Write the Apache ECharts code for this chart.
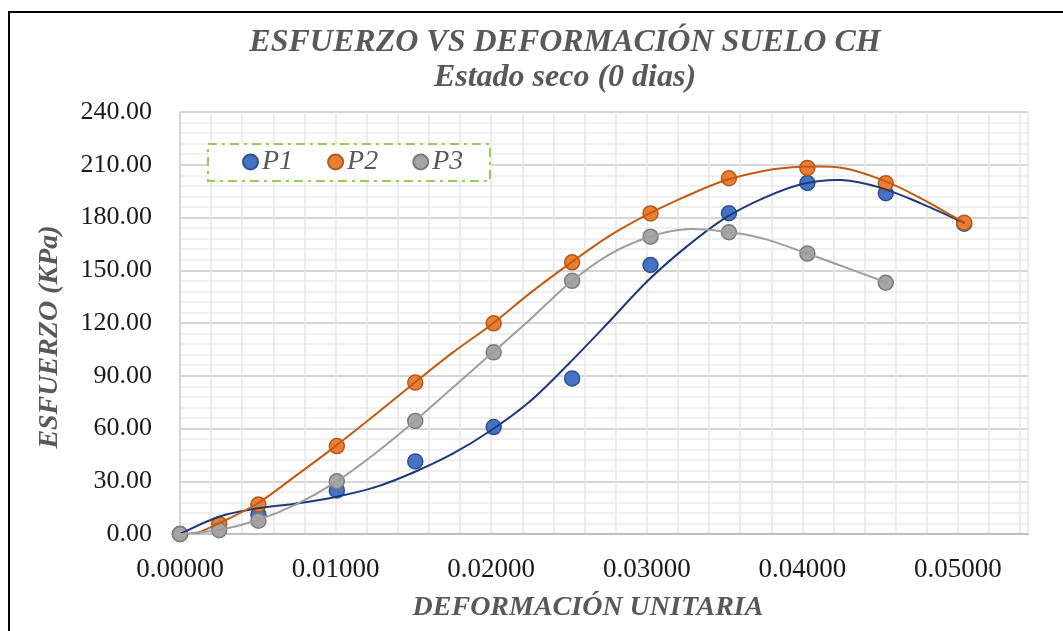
<!DOCTYPE html>
<html>
<head>
<meta charset="utf-8">
<script src="https://cdn.jsdelivr.net/npm/echarts@6/dist/echarts.min.js"></script>
<style>
html,body{margin:0;padding:0;background:#fff;}
#chart{width:1063px;height:631px;}
</style>
</head>
<body>
<div id="chart"></div>
<script>
// ---- data ----
const titleText = 'ESFUERZO VS DEFORMACIÓN SUELO CH';
const subtitleText = 'Estado seco (0 dias)';
const xAxisTitle = 'DEFORMACIÓN UNITARIA';
const yAxisTitle = 'ESFUERZO (KPa)';
const seriesNames = ['P1', 'P2', 'P3'];

// strain (x) and stress (y) of each reading
const strainP1 = [0, 0.00504, 0.01008, 0.01512, 0.02016, 0.0252, 0.03024, 0.03528, 0.04032, 0.04536, 0.0504];
const stressP1 = [0, 11.0, 24.8, 41.3, 60.8, 88.5, 153.0, 182.4, 199.6, 193.8, 176.5];
const strainP2 = [0, 0.00252, 0.00504, 0.01008, 0.01512, 0.02016, 0.0252, 0.03024, 0.03528, 0.04032, 0.04536, 0.0504];
const stressP2 = [0, 5.6, 16.8, 50.0, 86.1, 119.8, 154.5, 182.3, 202.3, 208.2, 199.5, 177.0];
const strainP3 = [0, 0.00252, 0.00504, 0.01008, 0.01512, 0.02016, 0.0252, 0.03024, 0.03528, 0.04032, 0.04536];
const stressP3 = [0, 2.2, 7.6, 30.0, 64.3, 103.3, 144.0, 169.1, 171.6, 159.5, 142.9];

// trend curves
const trendXP1 = [0, 0.0025, 0.005, 0.0075, 0.01, 0.0125, 0.015, 0.0175, 0.02, 0.0225, 0.025, 0.0275, 0.03, 0.0325, 0.035, 0.0375, 0.04, 0.0425, 0.045, 0.0475, 0.0504];
const trendYP1 = [0, 9.8, 14.6, 17.4, 21.1, 26.5, 35.0, 45.5, 59.0, 75.5, 97.0, 120.0, 143.5, 163.0, 179.5, 191.0, 199.0, 201.3, 197.0, 188.5, 177.0];
const trendXP2 = [0.001, 0.0025, 0.005, 0.0075, 0.01, 0.0125, 0.015, 0.0175, 0.02, 0.0225, 0.025, 0.0275, 0.03, 0.0325, 0.035, 0.0375, 0.04, 0.0425, 0.045, 0.0475, 0.0504];
const trendYP2 = [0, 6.0, 17.5, 33.5, 50.0, 67.5, 85.5, 103.0, 119.0, 137.0, 153.5, 169.0, 181.5, 192.0, 201.0, 206.5, 208.8, 208.3, 201.8, 191.5, 177.0];
const trendXP3 = [0, 0.0025, 0.005, 0.0075, 0.01, 0.0125, 0.015, 0.0175, 0.02, 0.0225, 0.025, 0.0275, 0.03, 0.0325, 0.035, 0.0375, 0.04, 0.0425, 0.0454];
const trendYP3 = [0, 2.3, 8.0, 17.0, 29.5, 45.5, 63.5, 83.0, 102.5, 122.0, 142.5, 158.5, 168.5, 173.3, 172.0, 168.0, 160.5, 152.5, 143.0];

const xMin = 0, xMax = 0.0545, xMajor = 0.01, xMinor = 0.002;
const yMin = 0, yMax = 240, yMajor = 30;

// ---- styles ----
const serif = "'Liberation Serif', 'Times New Roman', serif";
const markerColors = ['#4472C4', '#ED7D31', '#A5A5A5'];
const markerBorders = ['#2F528F', '#AE5A21', '#7B7B7B'];
const trendColors = ['#1F3A78', '#C55A11', '#9E9E9E'];

const zip = (a, b) => a.map((v, i) => [v, b[i]]);
const pts = [zip(strainP1, stressP1), zip(strainP2, stressP2), zip(strainP3, stressP3)];
const trends = [zip(trendXP1, trendYP1), zip(trendXP2, trendYP2), zip(trendXP3, trendYP3)];

// smooth trend curve: each segment is a cubic bezier through the sampled points (Catmull-Rom)
function trendRenderer(samples, color) {
  return function (params, api) {
    const i = params.dataIndex;
    if (i >= samples.length - 1) return null;
    const c = k => api.coord(samples[Math.max(0, Math.min(samples.length - 1, k))]);
    const p0 = c(i - 1), p1 = c(i), p2 = c(i + 1), p3 = c(i + 2);
    return {
      type: 'bezierCurve',
      shape: {
        x1: p1[0], y1: p1[1], x2: p2[0], y2: p2[1],
        cpx1: p1[0] + (p2[0] - p0[0]) / 6, cpy1: p1[1] + (p2[1] - p0[1]) / 6,
        cpx2: p2[0] - (p3[0] - p1[0]) / 6, cpy2: p2[1] - (p3[1] - p1[1]) / 6
      },
      style: { stroke: color, lineWidth: 2, fill: null, lineCap: 'round' },
      silent: true
    };
  };
}

const series = [];
seriesNames.forEach((n, i) => {
  series.push({
    name: n, type: 'scatter', xAxisIndex: 0, yAxisIndex: 0,
    data: pts[i], symbol: 'circle', symbolSize: 15, z: 3 + i,
    itemStyle: { color: markerColors[i], borderColor: markerBorders[i], borderWidth: 1.5, opacity: 1 }
  });
});
seriesNames.forEach((n, i) => {
  series.push({
    name: n + ' tendencia', type: 'custom', xAxisIndex: 0, yAxisIndex: 0,
    data: trends[i], z: 6, silent: true, clip: true,
    renderItem: trendRenderer(trends[i], trendColors[i])
  });
});

const chart = echarts.init(document.getElementById('chart'), null, { renderer: 'canvas' });
chart.setOption({
  animation: false,
  backgroundColor: '#fff',
  title: [
    { text: titleText, left: 560, top: 22, textAlign: 'center',
      textStyle: { fontFamily: serif, fontSize: 32, fontWeight: 'bold', fontStyle: 'italic', color: '#595959' } },
    { text: subtitleText, left: 560, top: 57, textAlign: 'center',
      textStyle: { fontFamily: serif, fontSize: 32, fontWeight: 'bold', fontStyle: 'italic', color: '#595959' } }
  ],
  legend: {
    data: seriesNames, left: 242, top: 148, padding: 0, itemGap: 34, z: 20,
    itemWidth: 15, itemHeight: 15, icon: 'circle',
    textStyle: { fontFamily: serif, fontSize: 28, fontStyle: 'italic', color: '#595959', padding: [0, 0, 0, -1] }
  },
  grid: { left: 180, top: 112, right: 35, bottom: 97, containLabel: false },
  xAxis: [
    { type: 'value', min: xMin, max: xMax, interval: xMajor,
      axisLine: { show: true, lineStyle: { color: '#bfbfbf', width: 2 } },
      axisTick: { show: false },
      splitLine: { show: false },
      axisLabel: { margin: 22, fontFamily: serif, fontSize: 27, color: '#1a1a1a', showMaxLabel: false,
        formatter: v => v.toFixed(5) } },
    { type: 'value', min: xMin, max: xMax, interval: xMinor, position: 'bottom',
      axisLine: { show: false }, axisTick: { show: false }, axisLabel: { show: false },
      splitLine: { show: true, lineStyle: { color: '#e6e6e6', width: 1.5 } } }
  ],
  yAxis: {
    type: 'value', min: yMin, max: yMax, interval: yMajor,
    axisLine: { show: true, lineStyle: { color: '#d0d0d0', width: 1.5 } },
    axisTick: { show: false },
    axisLabel: { margin: 28, fontFamily: serif, fontSize: 26, color: '#1a1a1a', formatter: v => v.toFixed(2) },
    splitLine: { show: true, lineStyle: { color: '#d6d6d6', width: 2 } },
    minorTick: { show: false, splitNumber: 5 },
    minorSplitLine: { show: true, lineStyle: { color: '#ececec', width: 1.5 } }
  },
  graphic: [
    { type: 'rect', shape: { x: 9, y: 12, width: 1200, height: 800 }, z: 100, silent: true,
      style: { fill: 'none', stroke: '#000', lineWidth: 2 } },
    { type: 'rect', shape: { x: 208, y: 144, width: 282, height: 37 }, z: 2, silent: true,
      style: { fill: '#ffffff', stroke: '#92D050', lineWidth: 2, lineDash: [9, 5, 3, 5] } },
    { type: 'text', x: 588, y: 608, z: 50, silent: true,
      style: { text: xAxisTitle, fontFamily: serif, fontSize: 28, fontWeight: 'bold', fontStyle: 'italic',
        fill: '#595959', textAlign: 'center', textVerticalAlign: 'middle' } },
    { type: 'text', x: 50, y: 337, rotation: Math.PI / 2, z: 50, silent: true,
      style: { text: yAxisTitle, fontFamily: serif, fontSize: 28, fontWeight: 'bold', fontStyle: 'italic',
        fill: '#595959', textAlign: 'center', textVerticalAlign: 'middle' } }
  ],
  series: series
});
</script>
</body>
</html>
